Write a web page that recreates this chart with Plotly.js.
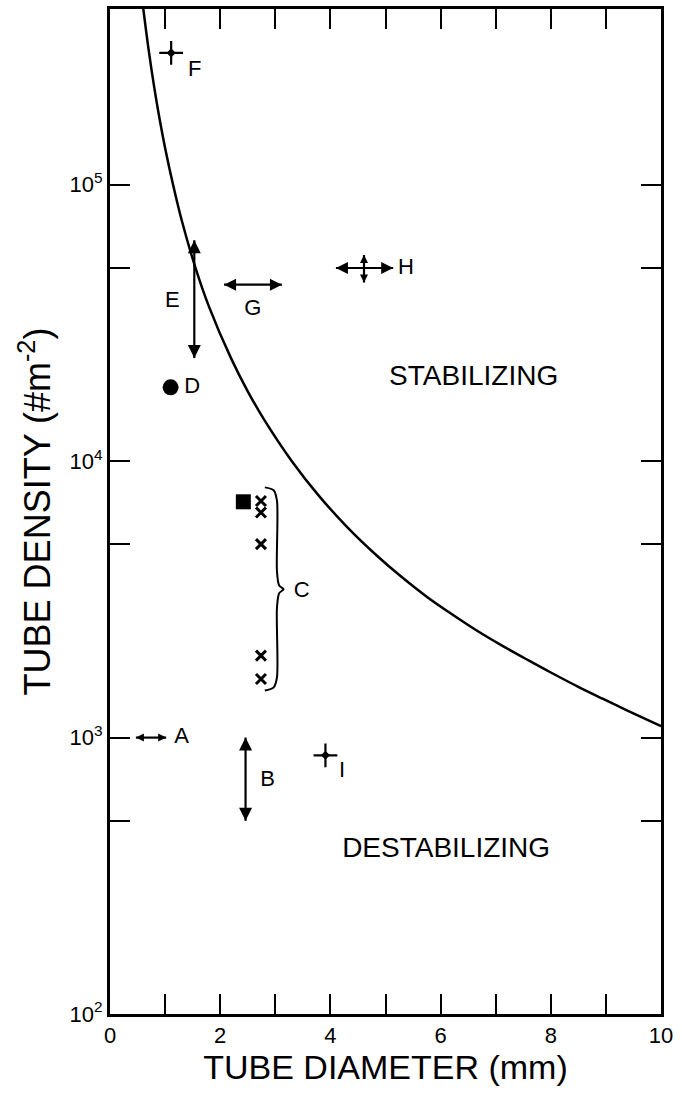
<!DOCTYPE html>
<html><head><meta charset="utf-8">
<script src="https://cdn.plot.ly/plotly-3.0.1.min.js"></script>
<style>html,body{margin:0;padding:0;background:#fff}#chart{width:682px;height:1093px}</style>
</head><body><div id="chart"></div>
<script>
// Stability boundary curve (tube diameter mm, tube density #/m^2)
const curveX = [0.60, 0.70, 0.80, 0.90, 1.00, 1.15, 1.30, 1.55, 1.80, 2.20, 2.50, 2.80, 3.30, 3.80, 4.30, 4.85, 5.30, 5.76, 6.20, 6.67, 7.10, 7.58, 8.00, 8.49, 8.95, 9.40, 10.0];
const curveY = [4.4e5, 3.09e5, 2.27e5, 1.73e5, 1.36e5, 9.9e4, 7.46e4, 5.02e4, 3.61e4, 2.35e4, 1.79e4, 1.41e4, 1.0e4, 7.46e3, 5.79e3, 4.54e3, 3.80e3, 3.22e3, 2.80e3, 2.43e3, 2.16e3, 1.91e3, 1.72e3, 1.53e3, 1.38e3, 1.25e3, 1.10e3];

// Range arrows
const arrowAX = [0.47, 1.02], arrowAY = [1000, 1000];
const arrowBX = [2.46, 2.46], arrowBY = [1000, 500];
const arrowEX = [1.53, 1.53], arrowEY = [6.3e4, 2.36e4];
const arrowGX = [2.07, 3.12], arrowGY = [4.35e4, 4.35e4];
const arrowHhX = [4.10, 5.14], arrowHhY = [5.0e4, 5.0e4];
const arrowHvX = [4.61, 4.61], arrowHvY = [5.57e4, 4.43e4];

// Point observations
const starX = [1.11, 3.91], starY = [3.0e5, 863];        // F, I
const dotX = [1.10], dotY = [1.85e4];                      // D
const squareX = [2.42], squareY = [7.13e3];                // square (group C)
const crossX = [2.74, 2.74, 2.74, 2.74, 2.74];             // group C
const crossY = [7.18e3, 6.52e3, 5.01e3, 1.98e3, 1.63e3];

// Brace grouping C
const braceX = [2.81, 2.97, 3.03, 3.03, 3.07, 3.15, 3.07, 3.03, 3.03, 2.97, 2.81];
const braceY = [8.04e3, 7.85e3, 7.2e3, 4.0e3, 3.55e3, 3.44e3, 3.33e3, 2.95e3, 1.65e3, 1.52e3, 1.48e3];

// Labels
const labelText = ['A', 'B', 'C', 'D', 'E', 'F', 'G', 'H', 'I'];
const labelX = [1.30, 2.86, 3.48, 1.49, 1.13, 1.54, 2.59, 5.37, 4.21];
const labelY = [1000, 700, 3390, 1.85e4, 3.78e4, 2.6e5, 3.53e4, 5.0e4, 754];
const regionText = ['STABILIZING', 'DESTABILIZING'];
const regionX = [6.6, 6.1];
const regionY = [2.0e4, 392];

// Axis ticks
const xTickVals = [0, 2, 4, 6, 8, 10];
const xTickText = ['0', '2', '4', '6', '8', '10'];
const xMinorVals = [1, 3, 5, 7, 9];
const yTickVals = [100, 1000, 1e4, 1e5];
const yTickText = ['10<sup>2</sup>', '10<sup>3</sup>', '10<sup>4</sup>', '10<sup>5</sup>'];
const yMinorVals = [500, 5000, 5e4];

const FONT = 'Liberation Sans, Arial, sans-serif';
const K = '#000';

function arrow(x, y, syms, size) {
  return {x: x, y: y, type: 'scatter', mode: 'lines+markers',
    line: {color: K, width: 2.2},
    marker: {symbol: syms, size: size, color: K, line: {width: 0}},
    cliponaxis: false, hoverinfo: 'skip'};
}

const traces = [
  {x: curveX, y: curveY, type: 'scatter', mode: 'lines', line: {color: K, width: 2.5, shape: 'spline', smoothing: 1}, hoverinfo: 'skip'},
  arrow(arrowAX, arrowAY, ['arrow-left', 'arrow-right'], 8),
  arrow(arrowBX, arrowBY, ['arrow-up', 'arrow-down'], 13),
  arrow(arrowEX, arrowEY, ['arrow-up', 'arrow-down'], 13),
  arrow(arrowGX, arrowGY, ['arrow-left', 'arrow-right'], 12),
  arrow(arrowHhX, arrowHhY, ['arrow-left', 'arrow-right'], 12),
  arrow(arrowHvX, arrowHvY, ['arrow-up', 'arrow-down'], 8),
  {x: starX, y: starY, type: 'scatter', mode: 'markers', marker: {symbol: 'cross-thin', size: 17, color: K, line: {width: 2.2, color: K}}, hoverinfo: 'skip'},
  {x: starX, y: starY, type: 'scatter', mode: 'markers', marker: {symbol: 'diamond', size: 7, color: K, line: {width: 0}}, hoverinfo: 'skip'},
  {x: dotX, y: dotY, type: 'scatter', mode: 'markers', marker: {symbol: 'circle', size: 16, color: K, line: {width: 0}}, hoverinfo: 'skip'},
  {x: squareX, y: squareY, type: 'scatter', mode: 'markers', marker: {symbol: 'square', size: 15, color: K, line: {width: 0}}, hoverinfo: 'skip'},
  {x: crossX, y: crossY, type: 'scatter', mode: 'markers', marker: {symbol: 'x-thin', size: 10, color: K, line: {width: 3, color: K}}, hoverinfo: 'skip'},
  {x: braceX, y: braceY, type: 'scatter', mode: 'lines', line: {color: K, width: 2, shape: 'spline', smoothing: 0.8}, hoverinfo: 'skip'},
  {x: labelX, y: labelY, text: labelText, type: 'scatter', mode: 'text', textposition: 'middle center',
    textfont: {family: FONT, size: 22, color: K}, cliponaxis: false, hoverinfo: 'skip'},
  {x: regionX, y: regionY, text: regionText, type: 'scatter', mode: 'text', textposition: 'middle center',
    textfont: {family: FONT, size: 28, color: K}, cliponaxis: false, hoverinfo: 'skip'}
];

const tickStyle = {ticks: 'inside', ticklen: 20, tickwidth: 2, tickcolor: K};

const layout = {
  width: 682, height: 1093,
  margin: {l: 110, r: 21, t: 9, b: 79},
  paper_bgcolor: '#fff', plot_bgcolor: '#fff',
  showlegend: false,
  font: {family: FONT, color: K, size: 22},
  xaxis: Object.assign({
    range: [0, 10], tickmode: 'array', tickvals: xTickVals, ticktext: xTickText,
    minor: Object.assign({tickmode: 'array', tickvals: xMinorVals, showgrid: false}, tickStyle),
    showline: true, linewidth: 3, linecolor: K, mirror: 'ticks',
    showgrid: false, zeroline: false,
    tickfont: {family: FONT, size: 22, color: K},
    title: {text: 'TUBE DIAMETER (mm)', font: {family: FONT, size: 34, color: K}, standoff: 0}
  }, tickStyle),
  yaxis: Object.assign({
    type: 'log', range: [2, 5.636], tickmode: 'array', tickvals: yTickVals, ticktext: yTickText,
    minor: Object.assign({tickmode: 'array', tickvals: yMinorVals, showgrid: false}, tickStyle),
    showline: true, linewidth: 3, linecolor: K, mirror: 'ticks',
    showgrid: false, zeroline: false,
    tickfont: {family: FONT, size: 22, color: K},
    title: {text: 'TUBE DENSITY (#m<sup>-2</sup>)', font: {family: FONT, size: 36, color: K}, standoff: 8}
  }, tickStyle)
};

Plotly.newPlot('chart', traces, layout, {displayModeBar: false, staticPlot: true});
</script>
</body></html>
